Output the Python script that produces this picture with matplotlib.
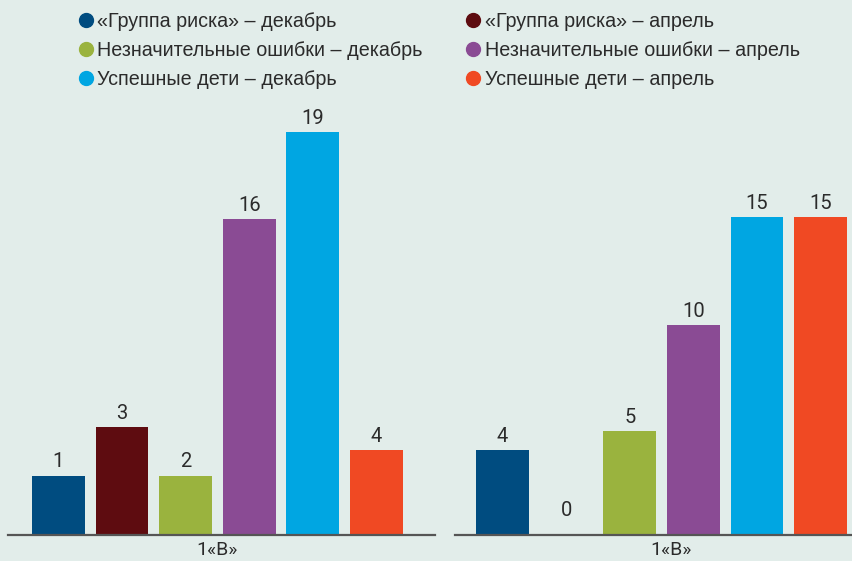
import matplotlib
matplotlib.use('Agg')
from matplotlib import pyplot as plt
from matplotlib.lines import Line2D

# series order: risk dec, risk apr, minor dec, minor apr, success dec, success apr
series = ['«Группа риска» – декабрь', '«Группа риска» – апрель',
          'Незначительные ошибки – декабрь', 'Незначительные ошибки – апрель',
          'Успешные дети – декабрь', 'Успешные дети – апрель']
colors = ['#004c80', '#5e0c10', '#9ab33e', '#8a4b94', '#00a6e2', '#f04923']

group_label = '1«В»'
# printed values
values_left = [1, 3, 2, 16, 19, 4]
values_right = [4, 0, 5, 10, 15, 15]
# bar heights as drawn in the source (left panel is not to scale with its labels)
heights_left = [2.8, 5.1, 2.8, 14.9, 19.0, 4.0]
heights_right = [4.0, 0.0, 4.9, 9.9, 15.0, 15.0]

bg = '#e2edea'
W, H = 853, 561
fig = plt.figure(figsize=(W / 100, H / 100), dpi=100, facecolor=bg)


def make_panel(x0, x1, xlim, heights, values, label_x):
    ax = fig.add_axes([x0 / W, 26 / H, (x1 - x0) / W, (535 - 40) / H])
    ax.set_facecolor(bg)
    idx = list(range(len(heights)))
    ax.bar(idx, heights, width=0.83, color=colors)
    for i, (h, v) in enumerate(zip(heights, values)):
        off = 3 if h > 0 else 11
        ax.annotate(str(v), (i, h), xytext=(0, off), textcoords='offset points',
                    ha='center', va='bottom', fontsize=14.5, color='#2b2b2b',
                    family='Roboto')
    ax.set_xlim(*xlim)
    ax.set_ylim(0, 23.35)
    for s in ['top', 'right', 'left']:
        ax.spines[s].set_visible(False)
    ax.spines['bottom'].set_color('#555555')
    ax.spines['bottom'].set_linewidth(1.6)
    ax.set_yticks([])
    ax.set_xticks([label_x])
    ax.set_xticklabels([group_label], fontsize=14, color='#2b2b2b', family='Roboto')
    ax.tick_params(axis='x', length=0, pad=4)
    return ax


make_panel(8, 435, (-0.794, 5.92), heights_left, values_left, 2.5)
make_panel(455, 853, (-0.747, 5.51), heights_right, values_right, 2.65)

# legend: december items in the first column, april items in the second
order = [0, 2, 4, 1, 3, 5]
handles = [Line2D([], [], marker='o', linestyle='none', markersize=10,
                  markerfacecolor=colors[i], markeredgecolor=colors[i]) for i in order]
labels = [series[i] for i in order]
fig.legend(handles, labels, ncol=2, loc='upper left', bbox_to_anchor=(58 / W, 1 + 6 / H),
           frameon=False, prop={'family': 'Liberation Sans', 'size': 14.2},
           handletextpad=0.1, columnspacing=2.05, labelspacing=0.52, handlelength=1.0,
           labelcolor='#2b2b2b')

plt.savefig('out.png', dpi=100, facecolor=bg)
